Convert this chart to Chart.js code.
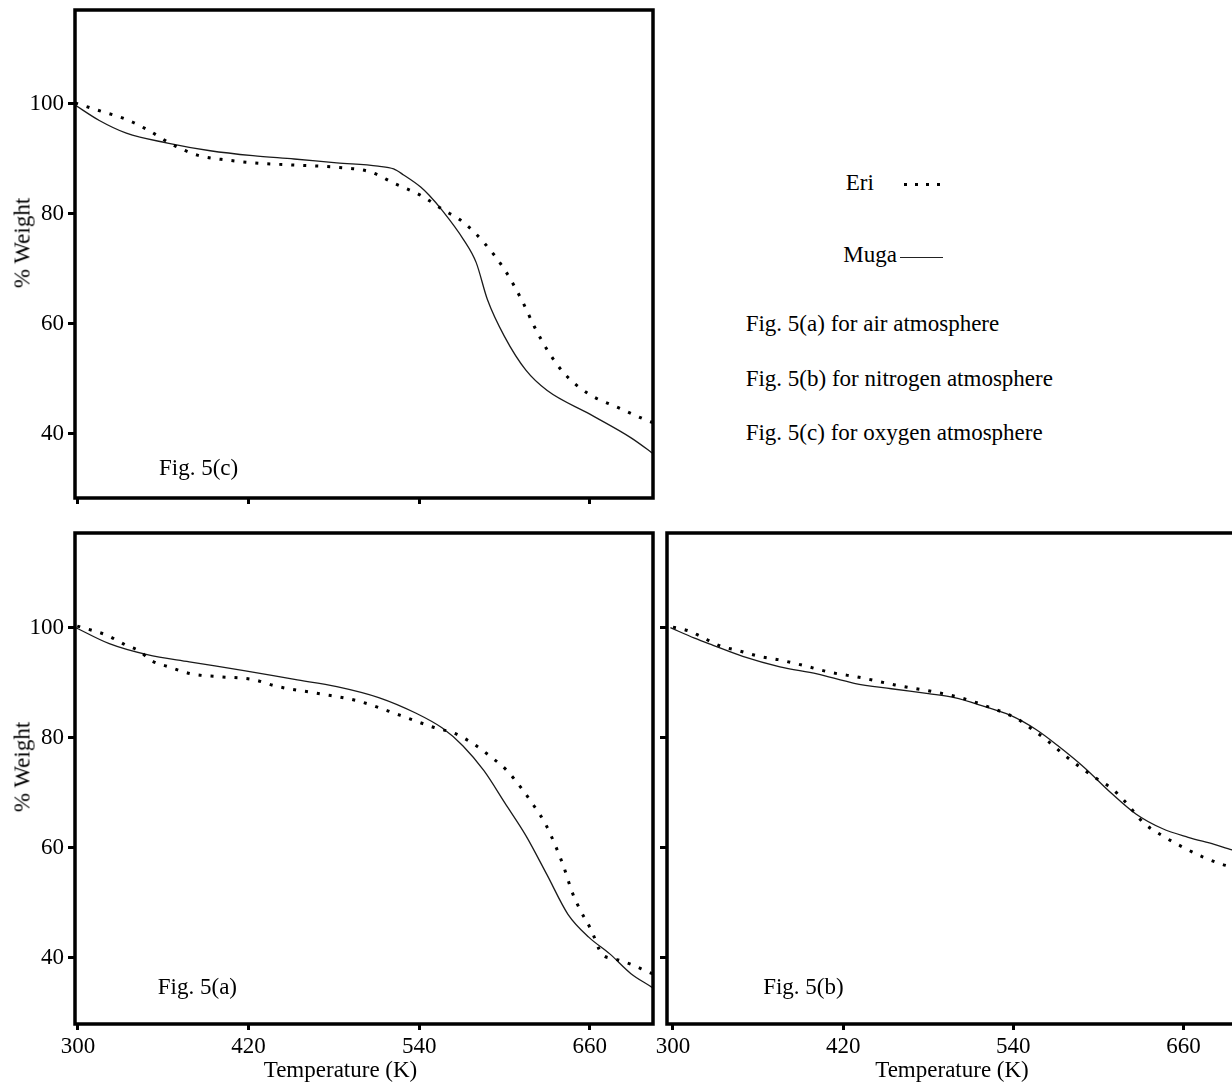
<!DOCTYPE html>
<html><head><meta charset="utf-8">
<script src="https://cdn.jsdelivr.net/npm/chart.js@4.4.1/dist/chart.umd.min.js"></script>
<style>
html,body{margin:0;padding:0;background:#fff;}
#wrap{position:relative;width:1232px;height:1084px;overflow:hidden;background:#fff;}
canvas{position:absolute;}
.t{position:absolute;font-family:'Liberation Serif','Times New Roman',serif;font-size:23px;color:#000;white-space:nowrap;line-height:1;}
.rot{transform:translate(-50%,-50%) rotate(-90deg);}
.ctr{transform:translateX(-50%);}
.dot{position:absolute;width:3px;height:3px;background:#000;}
</style></head><body>
<div id="wrap">
<canvas id="cC" width="660" height="520" style="left:0;top:0"></canvas>
<canvas id="cA" width="660" height="564" style="left:0;top:520px"></canvas>
<canvas id="cB" width="610" height="564" style="left:650px;top:520px"></canvas>

<div class="t rot" style="left:22px;top:242.5px">% Weight</div>
<div class="t rot" style="left:22px;top:766.5px">% Weight</div>
<div class="t ctr" style="left:340.5px;top:1057.7px">Temperature (K)</div>
<div class="t ctr" style="left:952px;top:1057.7px">Temperature (K)</div>
<div class="t" style="left:159px;top:455.7px">Fig. 5(c)</div>
<div class="t" style="left:157.8px;top:974.7px">Fig. 5(a)</div>
<div class="t" style="left:763.2px;top:974.7px">Fig. 5(b)</div>

<div class="t" style="left:845.7px;top:171.4px">Eri</div>
<div class="dot" style="left:903.5px;top:182.5px"></div>
<div class="dot" style="left:914.5px;top:182.5px"></div>
<div class="dot" style="left:925.5px;top:182.5px"></div>
<div class="dot" style="left:936.5px;top:182.5px"></div>
<div class="t" style="left:843.3px;top:242.7px">Muga</div>
<div style="position:absolute;left:900px;top:256.5px;width:43px;height:1.3px;background:#222"></div>
<div class="t" style="left:745.7px;top:312.2px">Fig. 5(a) for air atmosphere</div>
<div class="t" style="left:745.7px;top:366.7px">Fig. 5(b) for nitrogen atmosphere</div>
<div class="t" style="left:745.7px;top:421.2px">Fig. 5(c) for oxygen atmosphere</div>
</div>
<script>
// ---- tick labels ----
const xTickValues = [300, 420, 540, 660];
const yTickValues = [40, 60, 80, 100];

// ---- Fig. 5(c) oxygen ----
const cMugaT = [298, 315, 334, 363, 393, 423, 452, 482, 511, 522, 529, 541, 547, 556, 571, 580, 588, 600, 615, 630, 660, 689, 702, 705];
const cMugaW = [99.8, 97.0, 94.7, 92.9, 91.5, 90.6, 90.0, 89.3, 88.7, 88.2, 87.1, 84.9, 83.4, 80.7, 75.4, 71.2, 64.4, 57.7, 51.6, 47.9, 43.6, 39.3, 36.9, 36.3];
const cEriT = [298, 316, 334, 349, 366.5, 384, 405, 429, 452, 482, 505, 523, 541, 556, 571, 585.5, 600, 612, 621, 630, 642, 659, 680, 698, 705];
const cEriW = [100.2, 98.7, 97.2, 95.3, 92.6, 90.7, 89.8, 89.2, 88.9, 88.5, 87.7, 85.5, 83.4, 80.9, 78.5, 74.8, 69.9, 64.4, 59.5, 55.3, 51.0, 47.3, 44.8, 42.7, 42.0];

// ---- Fig. 5(a) air ----
const aMugaT = [298.5, 322, 348.7, 378.3, 416.7, 452.3, 482, 511.5, 538.2, 556, 570.8, 585.5, 600.3, 615, 629.8, 644.6, 659.4, 674, 688.9, 702, 705];
const aMugaW = [100, 97.1, 95.1, 93.8, 92.2, 90.6, 89.3, 87.3, 84.4, 81.8, 78.5, 74.0, 68.1, 62.2, 55.1, 47.9, 43.7, 40.7, 37.1, 34.9, 34.4];
const aEriT = [299.5, 320.6, 334, 342.9, 351.7, 363.6, 379.8, 399, 422.7, 440.5, 470, 496.7, 526.3, 550, 564.8, 578, 590, 601.8, 612.2, 621, 628.4, 635.9, 641.8, 647.7, 653.6, 661, 668.4, 677.3, 689, 702, 705];
const aEriW = [100.3, 98.6, 96.8, 95.8, 94.0, 92.9, 91.6, 91.1, 90.6, 89.3, 88.0, 86.7, 84.1, 81.9, 80.8, 78.9, 76.6, 74.0, 70.7, 67.5, 64.5, 60.3, 56.4, 51.8, 48.5, 45.0, 40.7, 39.8, 38.8, 37.3, 37.0];

// ---- Fig. 5(b) nitrogen ----
const bMugaT = [298.2, 315.2, 328.3, 349.2, 375.4, 401.6, 427.8, 454, 480.1, 498.4, 519.4, 537.7, 556, 571.7, 590, 608.4, 626.7, 645, 663.3, 681.7, 694.2, 704];
const bMugaW = [100, 98.1, 96.8, 94.8, 92.9, 91.6, 89.9, 88.9, 88.0, 87.3, 85.7, 84.1, 81.5, 78.5, 74.6, 70.1, 66.1, 63.5, 61.9, 60.6, 59.6, 59.0];
const bEriT = [300, 311.3, 319, 332.2, 346.5, 361, 374, 391.1, 410.7, 433, 456.6, 482.7, 502.4, 524.6, 543, 553.4, 563.9, 575.7, 587.4, 597.9, 609.7, 618.8, 632, 645, 658.1, 673.8, 686.9, 694.2, 704];
const bEriW = [100.1, 99.4, 98.5, 96.8, 95.8, 94.8, 94.2, 93.2, 91.9, 90.9, 89.6, 88.4, 87.3, 85.4, 83.4, 81.5, 79.5, 76.9, 74.6, 72.7, 70.7, 68.4, 64.5, 62.2, 60.3, 58.3, 57.0, 56.5, 55.8];

const pts = (T, W) => T.map((t, i) => ({x: t, y: W[i]}));
const FONT = "'Liberation Serif','Times New Roman',serif";

const framePlugin = {
  id: 'frame',
  afterDraw(chart) {
    const a = chart.chartArea, ctx = chart.ctx;
    ctx.save();
    ctx.strokeStyle = '#000';
    ctx.lineWidth = 3.5;
    ctx.strokeRect(a.left, a.top, a.right - a.left, a.bottom - a.top);
    ctx.restore();
  }
};

function noPad(s) { s.paddingTop = 0; s.paddingBottom = 0; s.paddingLeft = 0; s.paddingRight = 0; }

function makeChart(id, cfg) {
  new Chart(document.getElementById(id), {
    type: 'line',
    data: {
      datasets: [
        {label: 'Eri', data: pts(cfg.eriT, cfg.eriW), borderColor: '#000', borderWidth: 3,
         borderDash: [3, 9], borderCapStyle: 'butt', pointRadius: 0, fill: false,
         cubicInterpolationMode: 'monotone'},
        {label: 'Muga', data: pts(cfg.mugaT, cfg.mugaW), borderColor: '#1a1a1a', borderWidth: 1.3,
         pointRadius: 0, fill: false, cubicInterpolationMode: 'monotone'}
      ]
    },
    options: {
      responsive: false, animation: false, devicePixelRatio: 1,
      layout: {padding: cfg.pad},
      plugins: {legend: {display: false}, tooltip: {enabled: false}},
      scales: {
        x: {
          type: 'linear', min: cfg.xMin, max: cfg.xMax,
          afterBuildTicks: s => { s.ticks = xTickValues.map(v => ({value: v})); },
          afterFit: s => { s.height = cfg.xH; noPad(s); },
          border: {display: false},
          grid: {display: true, drawOnChartArea: false, drawTicks: true, tickLength: 6, tickWidth: 3, tickColor: '#000'},
          ticks: {display: cfg.xLabels, color: '#000', font: {family: FONT, size: 23}, padding: 3, maxRotation: 0, autoSkip: false}
        },
        y: {
          type: 'linear', min: cfg.yMin, max: cfg.yMax,
          afterBuildTicks: s => { s.ticks = yTickValues.map(v => ({value: v})); },
          afterFit: s => { s.width = cfg.yW; noPad(s); },
          border: {display: false},
          grid: {display: true, drawOnChartArea: false, drawTicks: true, tickLength: 7, tickWidth: 3, tickColor: '#000'},
          ticks: {display: cfg.yLabels, color: '#000', font: {family: FONT, size: 23}, padding: 4, autoSkip: false}
        }
      }
    },
    plugins: [framePlugin]
  });
}

makeChart('cC', {eriT: cEriT, eriW: cEriW, mugaT: cMugaT, mugaW: cMugaW,
  xMin: 297.9, xMax: 704.4, yMin: 28.36, yMax: 117.09,
  pad: {left: 0, top: 10, right: 7, bottom: 0}, xH: 22, yW: 75, xLabels: false, yLabels: true});
makeChart('cA', {eriT: aEriT, eriW: aEriW, mugaT: aMugaT, mugaW: aMugaW,
  xMin: 297.9, xMax: 704.4, yMin: 27.95, yMax: 117.22,
  pad: {left: 0, top: 13, right: 7, bottom: 0}, xH: 60, yW: 75, xLabels: true, yLabels: true});
makeChart('cB', {eriT: bEriT, eriW: bEriW, mugaT: bMugaT, mugaW: bMugaW,
  xMin: 295.77, xMax: 704.1, yMin: 27.95, yMax: 117.22,
  pad: {left: 0, top: 13, right: 14, bottom: 0}, xH: 60, yW: 17, xLabels: true, yLabels: false});
</script>
</body></html>
